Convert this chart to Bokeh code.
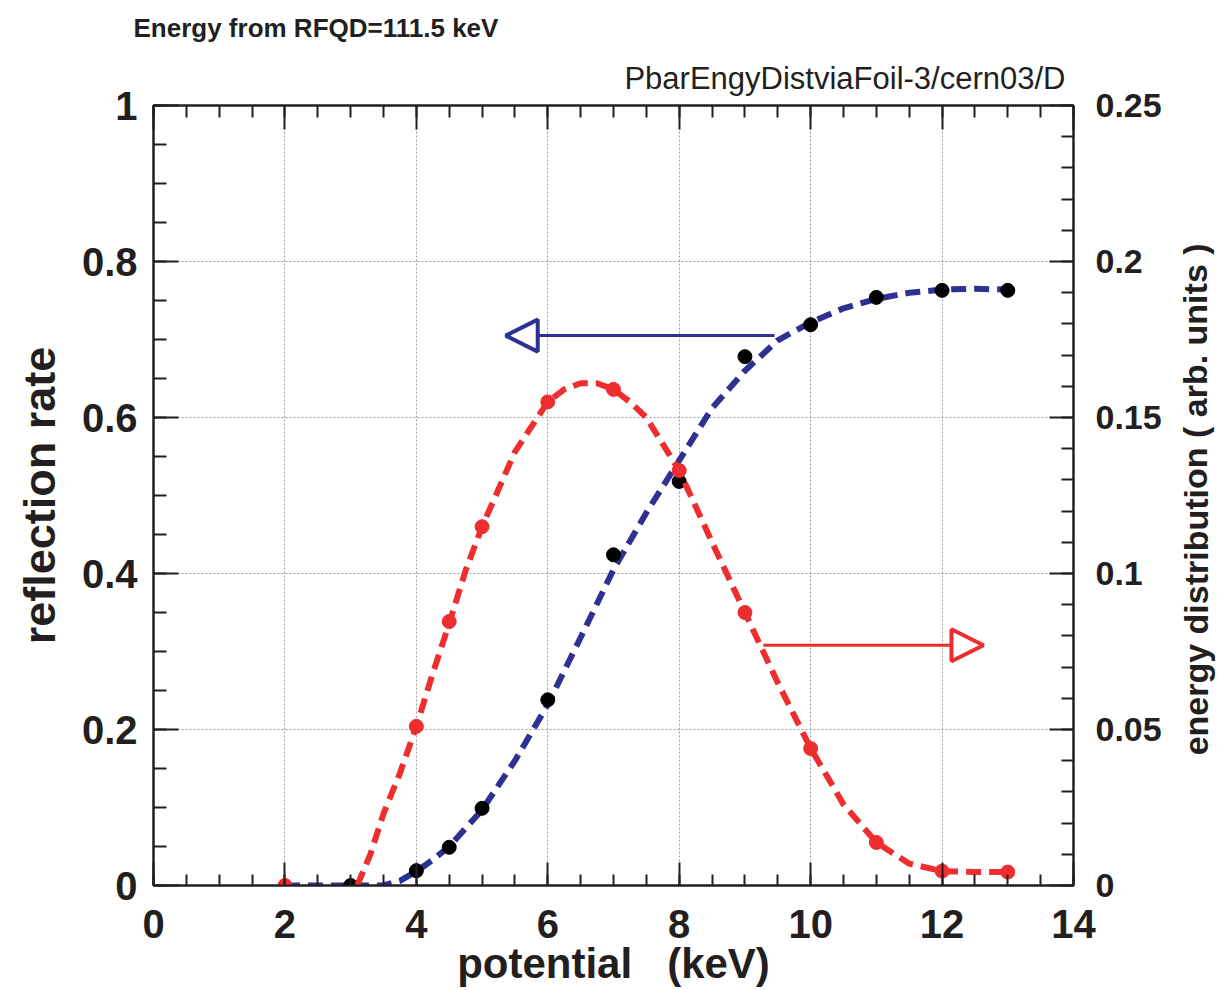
from bokeh.plotting import figure
from bokeh.layouts import row
from bokeh.models import (Range1d, LinearAxis, FixedTicker, CustomJSTickFormatter,
                          Arrow, NormalHead, Title, Label)
from bokeh.embed import file_html
from bokeh.resources import INLINE

# ---- data ----
rate_x = [3, 4, 4.5, 5, 6, 7, 8, 9, 10, 11, 12, 13]
rate_y = [0, 0.019, 0.049, 0.099, 0.238, 0.424, 0.518, 0.678, 0.719, 0.754, 0.763, 0.763]

dist_x = [2, 4, 4.5, 5, 6, 7, 8, 9, 10, 11, 12, 13]
dist_y = [0, 0.0510, 0.0846, 0.115, 0.155, 0.159, 0.133, 0.0875, 0.0439, 0.0138, 0.0046, 0.0043]

rate_fit_x = [2, 2.5, 3, 3.5, 3.75, 4, 4.25, 4.5, 5, 5.5, 6, 6.5, 7, 7.5, 8, 8.5, 9,
              9.5, 10, 10.5, 11, 11.5, 12, 12.5, 13]
rate_fit_y = [0, 0, 0, 0, 0.006, 0.018, 0.033, 0.050, 0.097, 0.160, 0.232, 0.318, 0.405,
              0.478, 0.545, 0.612, 0.660, 0.699, 0.722, 0.740, 0.752, 0.760, 0.764, 0.765, 0.764]

dist_fit_x = [3.1, 3.3, 3.5, 3.75, 4, 4.25, 4.5, 4.75, 5, 5.5, 6, 6.25, 6.5, 6.75, 7,
              7.25, 7.5, 8, 8.5, 9, 9.5, 10, 10.5, 11, 11.5, 12, 12.5, 13]
dist_fit_y = [0, 0.010, 0.023, 0.036, 0.051, 0.068, 0.084, 0.101, 0.115, 0.139, 0.155,
              0.159, 0.161, 0.161, 0.159, 0.155, 0.150, 0.133, 0.110, 0.0875, 0.065,
              0.044, 0.026, 0.0138, 0.007, 0.0046, 0.0043, 0.0043]

x_ticks = [0, 2, 4, 6, 8, 10, 12, 14]
y_ticks = [0, 0.2, 0.4, 0.6, 0.8, 1]
y2_ticks = [0, 0.05, 0.1, 0.15, 0.2, 0.25]

arrow_left = dict(x_start=9.45, x_end=5.36, y=0.705)     # reflection rate -> left axis
arrow_right = dict(x_start=9.28, x_end=12.63, y=0.077)   # energy distribution -> right axis

title_text = "Energy from RFQD=111.5 keV"
tag_text = "PbarEngyDistviaFoil-3/cern03/D"
right_label = "energy distribution ( arb. units )"

# ---- styling ----
FONT = "Liberation Sans"
INK = "#231f20"
BLUE = "#2e3192"
RED = "#ee2d2f"

p = figure(width=1177, height=990, output_backend="svg", toolbar_location=None,
           x_range=Range1d(0, 14), y_range=Range1d(0, 1),
           min_border_left=153, min_border_right=104, min_border_top=105,
           min_border_bottom=105, x_axis_label="potential\u00a0\u00a0\u00a0(keV)",
           y_axis_label="reflection rate")
p.extra_y_ranges = {"right": Range1d(0, 0.25)}
p.background_fill_color = "white"
p.border_fill_color = "white"
p.outline_line_color = INK
p.outline_line_width = 2

fmt = CustomJSTickFormatter(code="return tick.toString();")

def style_axis(ax, major_in, minor_in, label_size, standoff):
    ax.axis_line_color = INK
    ax.axis_line_width = 2
    ax.major_tick_line_color = INK
    ax.major_tick_line_width = 2
    ax.minor_tick_line_color = INK
    ax.minor_tick_line_width = 2
    ax.major_tick_in = major_in
    ax.major_tick_out = 0
    ax.minor_tick_in = minor_in
    ax.minor_tick_out = 0
    ax.major_label_text_font = FONT
    ax.major_label_text_font_style = "bold"
    ax.major_label_text_font_size = label_size
    ax.major_label_text_color = INK
    ax.major_label_standoff = standoff
    ax.axis_label_text_font = FONT
    ax.axis_label_text_font_style = "bold"
    ax.axis_label_text_color = INK

xt = FixedTicker(ticks=x_ticks, minor_ticks=[i * 0.5 for i in range(29)])
yt = FixedTicker(ticks=y_ticks, minor_ticks=[i * 0.05 for i in range(21)])
y2t = FixedTicker(ticks=y2_ticks, minor_ticks=[i * 0.01 for i in range(26)])

xa = p.xaxis[0]
xa.ticker = xt
xa.formatter = fmt
style_axis(xa, 23, 11, "40px", 24)
xa.axis_label_text_font_size = "42px"
xa.axis_label_standoff = -1

ya = p.yaxis[0]
ya.ticker = yt
ya.formatter = fmt
style_axis(ya, 25, 13, "40px", 16)
ya.axis_label_text_font_size = "45px"
ya.axis_label_standoff = 14

ra = LinearAxis(y_range_name="right", ticker=y2t, formatter=fmt)
style_axis(ra, 24, 12, "34px", 22)
p.add_layout(ra, "right")

ta = LinearAxis(ticker=xt, formatter=fmt)
style_axis(ta, 24, 12, "0px", 0)
ta.major_label_text_alpha = 0
p.add_layout(ta, "above")

for g in (p.xgrid[0], p.ygrid[0]):
    g.grid_line_color = "#9a9a9a"
    g.grid_line_width = 1
    g.grid_line_dash = "2 2"
p.xgrid[0].ticker = xt
p.ygrid[0].ticker = yt

# ---- titles ----
p.add_layout(Title(text=tag_text, align="right", offset=8, standoff=19,
                   text_font=FONT, text_font_size="31px", text_font_style="normal",
                   text_color=INK), "above")
p.add_layout(Title(text=title_text, align="left", offset=-20, standoff=14,
                   text_font=FONT, text_font_size="26px", text_font_style="bold",
                   text_color=INK), "above")

# ---- data marks ----
p.line(rate_fit_x, rate_fit_y, line_color=BLUE, line_width=6, line_dash="15 8")
p.scatter(rate_x, rate_y, size=14, color="black")
p.line(dist_fit_x, dist_fit_y, line_color=RED, line_width=6, line_dash="15 8",
       y_range_name="right")
p.scatter(dist_x, dist_y, size=14, color=RED, y_range_name="right")

p.add_layout(Arrow(end=NormalHead(size=32, fill_color="white", line_color=BLUE, line_width=4),
                   x_start=arrow_left["x_start"], x_end=arrow_left["x_end"],
                   y_start=arrow_left["y"], y_end=arrow_left["y"],
                   line_color=BLUE, line_width=3))
p.add_layout(Arrow(end=NormalHead(size=32, fill_color="white", line_color=RED, line_width=4),
                   x_start=arrow_right["x_start"], x_end=arrow_right["x_end"],
                   y_start=arrow_right["y"], y_end=arrow_right["y"],
                   y_range_name="right", line_color=RED, line_width=3))

# ---- narrow strip holding the right-hand axis title (reads bottom to top) ----
side = figure(width=40, height=990, output_backend="svg", toolbar_location=None,
              x_range=Range1d(0, 1), y_range=Range1d(0, 1),
              x_axis_type=None, y_axis_type=None, min_border=0)
side.outline_line_color = None
side.background_fill_color = "white"
side.border_fill_color = "white"
side.xgrid.visible = False
side.ygrid.visible = False
side.add_layout(Label(x=0.45, y=0.495, text=right_label, angle=1.5708,
                      text_font=FONT, text_font_style="bold", text_font_size="34px",
                      text_color=INK, text_align="center", text_baseline="middle"))

layout = row(p, side, spacing=0)
open("out.html", "w").write(file_html(layout, INLINE))
